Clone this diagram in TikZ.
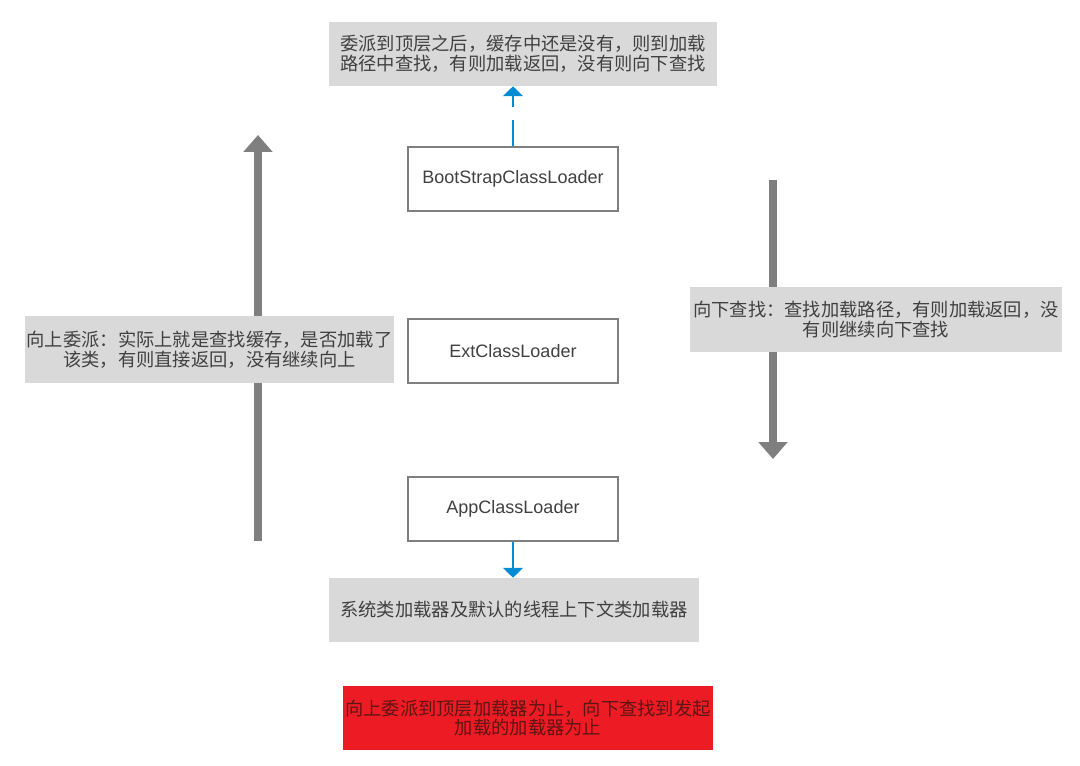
\documentclass[tikz,border=0pt]{standalone}
\usepackage{fontspec}
\setmainfont{Liberation Sans}
\newfontfamily\cjk{Noto Sans CJK SC}
\usetikzlibrary{arrows.meta, positioning}
\definecolor{notegray}{RGB}{217,217,217}
\definecolor{textgray}{RGB}{64,64,64}
\definecolor{framegray}{RGB}{127,127,127}
\definecolor{flowblue}{RGB}{0,140,210}
\definecolor{stopred}{RGB}{237,28,36}
\definecolor{stoptext}{RGB}{95,20,20}
\tikzset{
    % class loader box, white with a grey frame
    loader/.style={draw=framegray, line width=1pt, fill=white, text=textgray,
        minimum width=5.25cm, minimum height=1.6cm, inner sep=0pt,
        font=\fontsize{12.8}{15}\selectfont},
    % grey explanatory note
    note/.style={fill=notegray, text=textgray, align=center, inner sep=0pt,
        minimum height=1.6cm, font=\cjk\fontsize{13}{14}\selectfont},
    % red summary note
    stopnote/.style={note, fill=stopred, text=stoptext},
    % thin blue arrows between loader and note
    flow/.style={-{Triangle[width=14pt, length=7pt]}, draw=flowblue, line width=2pt},
    % thick grey direction arrows
    bigflow/.style={-{Triangle[width=20pt, length=12pt]}, draw=framegray, line width=5pt},
}

\begin{document}
\begin{tikzpicture}[x=0.025cm, y=-0.025cm]
    \useasboundingbox (0,0) rectangle (1080,766);

    % --- ends of the direction arrows ---
    \coordinate (upS)   at (258, 541);
    \coordinate (upE)   at (258, 135);
    \coordinate (downS) at (773, 180);
    \coordinate (downE) at (773, 459);
    \draw[bigflow] (upS) -- (upE);
    \draw[bigflow] (downS) -- (downE);

    % --- loaders ---
    \node[loader] (boot) at (513, 179) {BootStrapClassLoader};
    \node[loader] (ext)  at (513, 351) {ExtClassLoader};
    \node[loader] (app)  at (513, 509) {AppClassLoader};

    % --- notes ---
    \node[note, minimum width=9.7cm] (topnote) at (523, 54)
        {委派到顶层之后，缓存中还是没有，则到加载\\路径中查找，有则加载返回，没有则向下查找};
    \node[note, minimum width=9.225cm, minimum height=1.675cm] (upnote) at (209.5, 349.5)
        {向上委派：实际上就是查找缓存，是否加载了\\该类，有则直接返回，没有继续向上};
    \node[note, minimum width=9.3cm, minimum height=1.625cm] (downnote) at (876, 319.5)
        {向下查找：查找加载路径，有则加载返回，没\\有则继续向下查找};
    \node[note, minimum width=9.25cm] (appnote) at (514, 610)
        {系统类加载器及默认的线程上下文类加载器};
    \node[stopnote, minimum width=9.25cm] (stop) at (528, 718)
        {向上委派到顶层加载器为止，向下查找到发起\\加载的加载器为止};

    % loader -> note
    \draw[flow, dash pattern=on 18.5pt off 9.2pt] (boot.north) -- (boot.north |- topnote.south);
    \draw[flow] (app) -- (app |- appnote.north);

\end{tikzpicture}
\end{document}
